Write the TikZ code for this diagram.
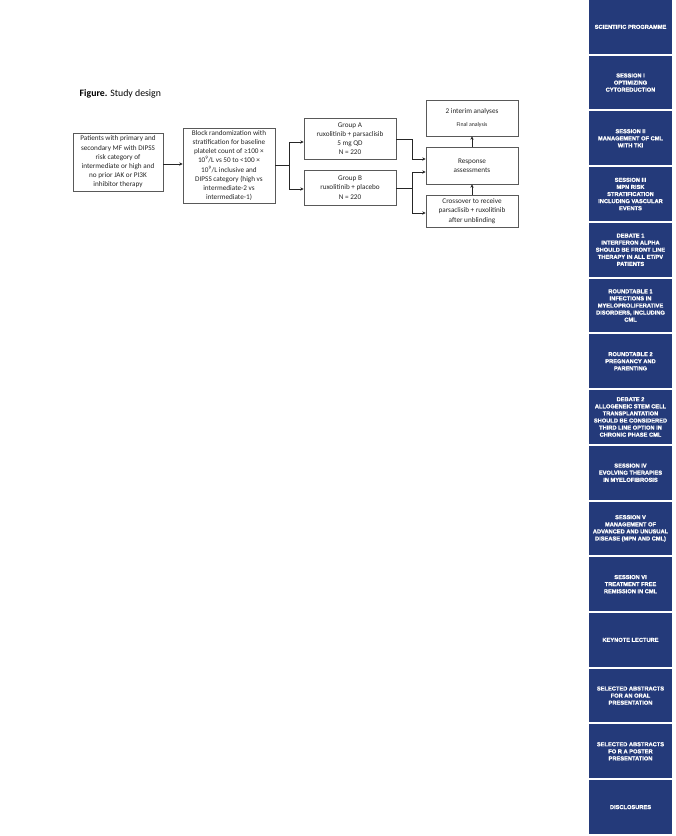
\documentclass[tikz,border=0pt]{standalone}
\usepackage{fontspec}
\setmainfont{Carlito}
\newfontfamily\sidefont[BoldFeatures={FakeBold=1.3}]{Liberation Sans}
\usetikzlibrary{arrows.meta}
\definecolor{navy}{HTML}{243A7A}
\definecolor{boxline}{gray}{0.35}
\tikzset{
  fbox/.style={draw=boxline, line width=0.7pt, fill=white, align=center, inner sep=0pt,
    font=\fontsize{7.2}{9.2}\selectfont, text=black!85},
  conn/.style={line width=0.9pt, draw=black!85},
  arr/.style={conn, -{Stealth[length=3.4pt,width=3.2pt]}},
  tile/.style={fill=navy, minimum width=83pt, minimum height=53.7pt, inner sep=0pt,
    align=center, text=white, font=\sidefont\bfseries\fontsize{5.7}{7.1}\selectfont},
}
\begin{document}
\begin{tikzpicture}[x=1pt,y=-1pt]
\useasboundingbox (0,0) rectangle (676,836);
\fill[white] (0,0) rectangle (676,836);

% caption
\node[anchor=west, inner sep=0pt, font=\fontsize{9.8}{11}\selectfont] (cap) at (79.5,93.5) {\textbf{Figure.} Study design};

% boxes
\node[fbox, minimum width=90pt, minimum height=58pt] (pat) at (118,162)
  {Patients with primary and\\secondary MF with DIPSS\\risk category of\\intermediate or high and\\no prior JAK or PI3K\\inhibitor therapy};
\node[fbox, minimum width=92pt, minimum height=75pt] (rand) at (229,165.5)
  {Block randomization with\\stratification for baseline\\platelet count of ≥100 ×\\10\textsuperscript{9}/L vs 50 to <100 ×\\10\textsuperscript{9}/L inclusive and\\DIPSS category (high vs\\intermediate-2 vs\\intermediate-1)};
\node[fbox, minimum width=92pt, minimum height=41pt] (ga) at (350,138.5)
  {Group A\\ruxolitinib + parsaclisib\\5 mg QD\\N = 220};
\node[fbox, minimum width=92pt, minimum height=35pt] (gb) at (350,187.5)
  {Group B\\ruxolitinib + placebo\\N = 220};
\node[fbox, minimum width=92pt, minimum height=36pt] (interim) at (472,118)
  {2 interim analyses\\[4pt]{\fontsize{5.8}{6.5}\selectfont Final analysis}};
\node[fbox, minimum width=92pt, minimum height=37pt] (resp) at (472,165.5)
  {Response\\assessments};
\node[fbox, minimum width=92pt, minimum height=32pt] (cross) at (472,211)
  {Crossover to receive\\parsaclisib + ruxolitinib\\after unblinding};

% connectors
\draw[arr] (pat.east |- 0,164) -- (rand.west |- 0,164);
\coordinate (split) at (289,165);
\draw[conn] (rand.east |- split) -- (split);
\draw[arr] (split) |- (ga.west |- 0,142);
\draw[arr] (split) |- (gb.west |- 0,189);
\coordinate (ja) at (412,139);
\coordinate (jb) at (412,188);
\draw[arr] (ga.east |- ja) -- (ja) |- (resp.west |- 0,159);
\draw[conn] (gb.east |- jb) -- (jb);
\draw[arr] (jb) |- (resp.west |- 0,172);
\draw[arr] (jb) |- (cross.west |- 0,213);
\draw[arr] (resp.north) -- (interim.south);
\draw[arr] (cross.north) -- (resp.south);

% sidebar
\node[tile] (t1) at (630.5,26.85) {SCIENTIFIC PROGRAMME};
\node[tile] (t2) at (630.5,82.58) {SESSION I\\OPTIMIZING\\CYTOREDUCTION};
\node[tile] (t3) at (630.5,138.31) {SESSION II\\MANAGEMENT OF CML\\WITH TKI};
\node[tile] (t4) at (630.5,194.04) {SESSION III\\MPN RISK\\STRATIFICATION\\INCLUDING VASCULAR\\EVENTS};
\node[tile] (t5) at (630.5,249.77) {DEBATE 1\\INTERFERON ALPHA\\SHOULD BE FRONT LINE\\THERAPY IN ALL ET/PV\\PATIENTS};
\node[tile] (t6) at (630.5,305.50) {ROUNDTABLE 1\\INFECTIONS IN\\MYELOPROLIFERATIVE\\DISORDERS, INCLUDING\\CML};
\node[tile] (t7) at (630.5,361.23) {ROUNDTABLE 2\\PREGNANCY AND\\PARENTING};
\node[tile] (t8) at (630.5,416.96) {DEBATE 2\\ALLOGENEIC STEM CELL\\TRANSPLANTATION\\SHOULD BE CONSIDERED\\THIRD LINE OPTION IN\\CHRONIC PHASE CML};
\node[tile] (t9) at (630.5,472.69) {SESSION IV\\EVOLVING THERAPIES\\IN MYELOFIBROSIS};
\node[tile] (t10) at (630.5,528.42) {SESSION V\\MANAGEMENT OF\\ADVANCED AND UNUSUAL\\DISEASE (MPN AND CML)};
\node[tile] (t11) at (630.5,584.15) {SESSION VI\\TREATMENT FREE\\REMISSION IN CML};
\node[tile] (t12) at (630.5,639.88) {KEYNOTE LECTURE};
\node[tile] (t13) at (630.5,695.61) {SELECTED ABSTRACTS\\FOR AN ORAL\\PRESENTATION};
\node[tile] (t14) at (630.5,751.34) {SELECTED ABSTRACTS\\FO R A POSTER\\PRESENTATION};
\node[tile] (t15) at (630.5,807.07) {DISCLOSURES};
\end{tikzpicture}
\end{document}
